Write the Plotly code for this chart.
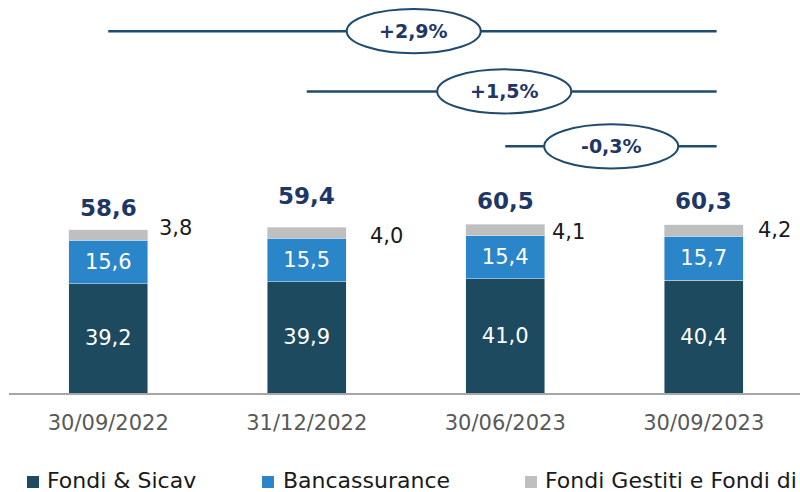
import plotly.graph_objects as go

# ---- data ----
dates = ["30/09/2022", "31/12/2022", "30/06/2023", "30/09/2023"]
fondi_sicav = [39.2, 39.9, 41.0, 40.4]
bancassurance = [15.6, 15.5, 15.4, 15.7]
fondi_gestiti = [3.8, 4.0, 4.1, 4.2]
totals = [58.6, 59.4, 60.5, 60.3]
growth_labels = ["+2,9%", "+1,5%", "-0,3%"]
growth_from = [0, 1, 2]          # category each comparison starts from
series_names = ["Fondi & Sicav", "Bancassurance", "Fondi Gestiti e Fondi di Fondi"]

# ---- style ----
C_DARK = "#1d4a5e"
C_BLUE = "#2a86c9"
C_GREY = "#bfbfbf"
C_NAVY = "#1e3766"
C_LINE = "#1f4b6e"
FONT = "DejaVu Sans"

W, H = 800, 492
ML, MR, MT, MB = 9, 0, 0, 99
PW, PH = W - ML - MR, H - MT - MB
Y_MAX = PH / 2.79
X_RANGE = [-0.5, 3.485]


def fmt(v):
    return f"{v:.1f}".replace(".", ",")


def paper_x(px):
    return (px - ML) / PW


def paper_y(py):
    return (H - MB - py) / PH


fig = go.Figure()

fig.add_bar(x=list(range(4)), y=fondi_sicav, name=series_names[0],
            marker_color=C_DARK, width=0.4,
            text=[fmt(v) for v in fondi_sicav], textposition="inside",
            insidetextanchor="middle",
            textfont=dict(color="white", size=21, family=FONT))
fig.add_bar(x=list(range(4)), y=bancassurance, name=series_names[1],
            marker_color=C_BLUE, width=0.4,
            text=[fmt(v) for v in bancassurance], textposition="inside",
            insidetextanchor="middle",
            textfont=dict(color="white", size=21, family=FONT))
fig.add_bar(x=list(range(4)), y=fondi_gestiti, name=series_names[2],
            marker_color=C_GREY, width=0.4)

annotations = []

# totals above the stacks
total_shift = [7, 16, 8, 9]
for i, t in enumerate(totals):
    annotations.append(dict(x=i, y=t, xref="x", yref="y", text=f"<b>{fmt(t)}</b>",
                            showarrow=False, yanchor="bottom", yshift=total_shift[i],
                            font=dict(size=23, color=C_NAVY, family=FONT)))

# small-segment values beside the bars
side_dx = [67, 80, 63, 71]
side_dy = [7, -3, -2, 1]
for i in range(4):
    mid = fondi_sicav[i] + bancassurance[i] + fondi_gestiti[i] / 2
    annotations.append(dict(x=i, y=mid, xref="x", yref="y", text=fmt(fondi_gestiti[i]),
                            showarrow=False, xshift=side_dx[i], yshift=side_dy[i],
                            font=dict(size=21, color="#1a1a1a", family=FONT)))

# growth comparisons: line from the start category to the last one, with an oval tag
shapes = []
bracket_y = [129.7, 108.1, 88.4]
oval_x = [1.539, 1.995, 2.534]
oval_hw, oval_hh = 0.3375, 7.9
line_end = 3.065
for k, lab in enumerate(growth_labels):
    y = bracket_y[k]
    shapes.append(dict(type="line", xref="x", yref="y", x0=growth_from[k], x1=line_end,
                       y0=y, y1=y, line=dict(color=C_LINE, width=2.5), layer="above"))
    shapes.append(dict(type="circle", xref="x", yref="y",
                       x0=oval_x[k] - oval_hw, x1=oval_x[k] + oval_hw,
                       y0=y - oval_hh, y1=y + oval_hh,
                       fillcolor="white", line=dict(color=C_LINE, width=2), layer="above"))
    annotations.append(dict(x=oval_x[k], y=y, xref="x", yref="y", text=f"<b>{lab}</b>",
                            showarrow=False, font=dict(size=19, color=C_NAVY, family=FONT)))

# legend row drawn by hand so the last entry runs off the right edge
legend_sq_px = [27, 262, 525]
legend_txt_px = [45, 281, 543]
legend_cy = 480
colors = [C_DARK, C_BLUE, C_GREY]
for k in range(3):
    shapes.append(dict(type="rect", xref="paper", yref="paper",
                       x0=paper_x(legend_sq_px[k]), x1=paper_x(legend_sq_px[k] + 12),
                       y0=paper_y(legend_cy + 8), y1=paper_y(legend_cy - 4),
                       fillcolor=colors[k], line=dict(width=0)))
    annotations.append(dict(x=paper_x(legend_txt_px[k]), y=paper_y(legend_cy),
                            xref="paper", yref="paper", xanchor="left", yanchor="middle",
                            text=series_names[k], showarrow=False,
                            font=dict(size=22, color="#1a1a1a", family=FONT)))

fig.update_layout(
    barmode="stack",
    width=W, height=H,
    margin=dict(l=ML, r=MR, t=MT, b=MB),
    paper_bgcolor="white", plot_bgcolor="white",
    showlegend=False,
    shapes=shapes,
    annotations=annotations,
    xaxis=dict(range=X_RANGE, tickmode="array", tickvals=list(range(4)), ticktext=dates,
               showgrid=False, zeroline=False, showline=True, linecolor="#a6a6a6",
               linewidth=1.5, ticks="", ticklabelstandoff=10,
               tickfont=dict(size=21, color="#595959", family=FONT)),
    yaxis=dict(range=[0, Y_MAX], visible=False, showgrid=False, zeroline=False),
)

fig.write_html("out.html")
